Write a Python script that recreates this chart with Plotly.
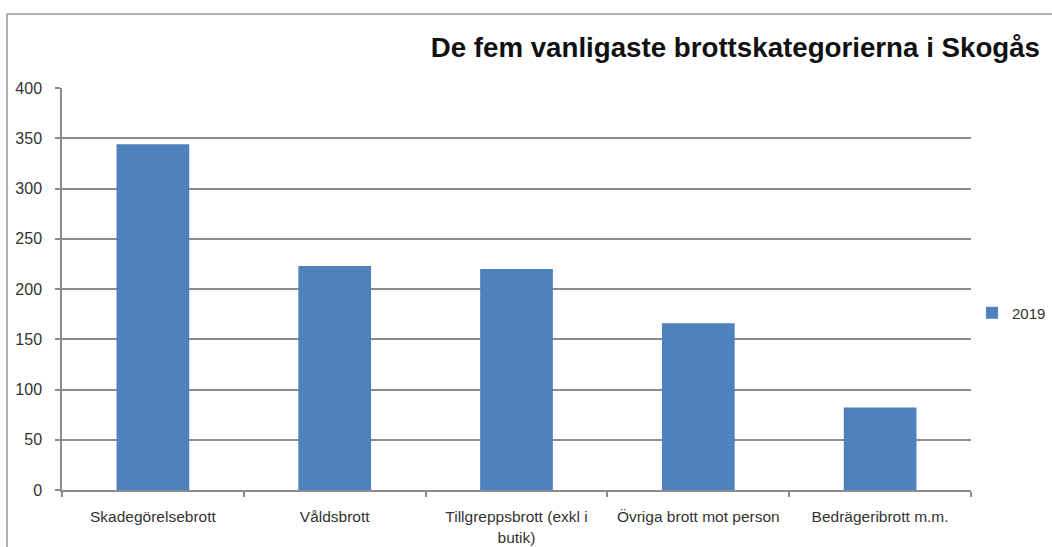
import plotly.graph_objects as go

categories = ["Skadegörelsebrott", "Våldsbrott", "Tillgreppsbrott (exkl i<br>butik)",
              "Övriga brott mot person", "Bedrägeribrott m.m."]
values_2019 = [344, 223, 220, 166, 82]
series_name = "2019"
title_text = "<b>De fem vanligaste brottskategorierna i Skogås</b>"

W, H = 1052, 547
L, R, T, B = 62, 81, 88, 57
pw, ph = W - L - R, H - T - B

fig = go.Figure()
fig.add_trace(go.Bar(x=categories, y=values_2019, name=series_name,
                     marker=dict(color="#4F81BD", line=dict(width=0)),
                     showlegend=True))

grid = "#8c8c8c"
fig.update_layout(
    width=W, height=H,
    margin=dict(l=L, r=R, t=T, b=B, autoexpand=False),
    paper_bgcolor="white", plot_bgcolor="white",
    bargap=0.6,
    font=dict(family="Liberation Sans, Arial, sans-serif", size=15, color="#333333"),
    title=dict(text=title_text, x=1040 / W, xanchor="right", xref="container",
               y=1 - 47 / H, yanchor="middle", yref="container",
               font=dict(size=27.7, color="#111111")),
    legend=dict(x=(972 - L) / pw, y=(490 - 313) / ph, xanchor="left", yanchor="middle",
                font=dict(size=15, color="#333333"), bgcolor="rgba(0,0,0,0)",
                itemwidth=30),
    xaxis=dict(showline=True, linecolor=grid, linewidth=1.5, ticks="outside",
               tickson="boundaries", ticklen=5, tickcolor=grid, tickwidth=1.5,
               showgrid=False, tickfont=dict(size=15.5), ticklabelstandoff=12),
    yaxis=dict(range=[0, 400], dtick=50, showline=True, linecolor=grid, linewidth=1.5,
               ticks="outside", ticklen=5, tickcolor=grid, tickwidth=1.5,
               showgrid=True, gridcolor=grid, gridwidth=1.5, zeroline=False,
               tickfont=dict(size=16), ticklabelstandoff=10),
    shapes=[
        dict(type="line", xref="paper", yref="paper",
             x0=(7 - L) / pw, x1=(1060 - L) / pw, y0=(490 - 14) / ph, y1=(490 - 14) / ph,
             line=dict(color="#999999", width=1.5)),
        dict(type="line", xref="paper", yref="paper",
             x0=(7 - L) / pw, x1=(7 - L) / pw, y0=(490 - 14) / ph, y1=(490 - 560) / ph,
             line=dict(color="#999999", width=1.5)),
    ],
)

fig.write_html("out.html", config={"displayModeBar": False},
               post_script="document.body.style.margin='0';document.body.style.overflow='hidden';")
